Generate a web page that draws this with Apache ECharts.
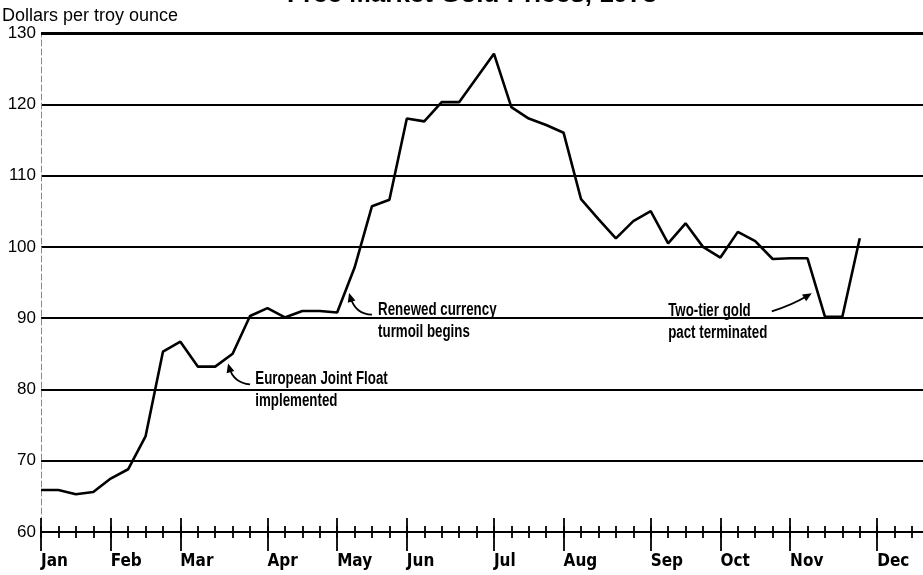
<!DOCTYPE html>
<html>
<head>
<meta charset="utf-8">
<style>
  html, body { margin: 0; padding: 0; background: #fff; }
  #chart { width: 923px; height: 575px; }
</style>
</head>
<body>
<div id="chart"></div>
<script src="https://cdn.jsdelivr.net/npm/echarts@6/dist/echarts.min.js"></script>
<script>
// weekly free market gold price, 1973 (week 0 = first week of Jan)
var prices = [
  65.9, 65.9, 65.3, 65.6, 67.5, 68.8, 73.4, 85.3, 86.7, 83.2,
  83.2, 85.0, 90.3, 91.4, 90.1, 91.0, 91.0, 90.8, 97.1, 105.7,
  106.6, 118.0, 117.6, 120.3, 120.3, 123.7, 127.1, 119.6, 118.0, 117.1,
  116.0, 106.7, 103.9, 101.2, 103.6, 105.0, 100.5, 103.3, 100.0, 98.5,
  102.1, 100.8, 98.3, 98.4, 98.4, 90.2, 90.2, 101.2
];
var months = ['Jan', 'Feb', 'Mar', 'Apr', 'May', 'Jun', 'Jul', 'Aug', 'Sep', 'Oct', 'Nov', 'Dec'];
var monthWeeks = [0, 4, 8, 13, 17, 21, 26, 30, 35, 39, 43, 48];
var weekTicks = [];
for (var w = 0; w <= 50; w++) weekTicks.push(w);

// annotations in data coords [week, price]
var notes = [
  { text: 'European Joint Float\nimplemented', at: [12.3, 81.4], tail: [12.0, 80.7], ctrl: [11.05, 80.9], head: [10.8, 83.1] },
  { text: 'Renewed currency\nturmoil begins', at: [19.35, 91.1], tail: [19.0, 90.5], ctrl: [18.05, 90.5], head: [17.75, 93.0] },
  { text: 'Two-tier gold\npact terminated', at: [36.0, 90.95], tail: [41.95, 90.95], ctrl: [43.1, 91.8], head: [44.05, 93.2] }
];

var condensed = "'DejaVu Sans Condensed', 'Liberation Sans Narrow', sans-serif";
var XMAX = 50.63;

function weekAxis(show, len, inside, vals, labels) {
  return {
    type: 'value', position: 'bottom', min: 0, max: XMAX, gridIndex: 0,
    axisLine: { show: show, lineStyle: { color: '#000', width: 1.5 } },
    axisTick: { show: true, inside: inside, length: len, customValues: vals,
                lineStyle: { color: '#000', width: 1.8 } },
    axisLabel: labels ? {
      customValues: monthWeeks, align: 'left', margin: 21,
      fontFamily: condensed, fontWeight: 'bold', fontSize: 17, color: '#000',
      formatter: function (v) { return months[monthWeeks.indexOf(v)]; }
    } : { show: false },
    splitLine: { show: false }
  };
}

var chart = echarts.init(document.getElementById('chart'));
var option = {
  animation: false,
  title: {
    text: 'Free Market Gold Prices, 1973', left: 467, textAlign: 'center', top: -23,
    textStyle: { fontFamily: 'Liberation Sans', fontWeight: 'bold', fontSize: 26, color: '#000' }
  },
  grid: { left: 41, right: 0, top: 33, bottom: 43, containLabel: false, outerBoundsMode: 'none' },
  xAxis: [
    weekAxis(true, 6, false, weekTicks, true),
    weekAxis(false, 6, true, weekTicks, false),
    weekAxis(false, 19, false, monthWeeks, false),
    weekAxis(false, 14, true, monthWeeks, false)
  ],
  yAxis: {
    type: 'value', min: 60, max: 130, interval: 10,
    name: 'Dollars per troy ounce', nameLocation: 'end', nameGap: 8,
    nameTextStyle: { align: 'left', padding: [0, 0, 0, -39], fontFamily: 'Liberation Sans', fontSize: 18, color: '#000' },
    axisLine: { show: true, lineStyle: { color: '#888', width: 1, type: [6, 3] } },
    axisTick: { show: false },
    axisLabel: { fontFamily: 'Liberation Sans', fontSize: 17, color: '#000', margin: 5 },
    splitLine: { show: true, lineStyle: { color: '#000', width: 1.8 } }
  },
  series: [{
    type: 'line',
    data: prices.map(function (v, i) { return [i, v]; }),
    symbol: 'none',
    lineStyle: { color: '#000', width: 2.6 },
    markLine: {
      silent: true, symbol: 'none', label: { show: false },
      lineStyle: { color: '#000', width: 3, type: 'solid' },
      data: [{ yAxis: 130 }]
    }
  }]
};
chart.setOption(option);

function px(p) { return chart.convertToPixel({ gridIndex: 0 }, p); }

var graphics = [];
notes.forEach(function (n) {
  var a = px(n.at);
  // bold condensed lettering: a regular bold face squeezed horizontally
  graphics.push({
    type: 'text', z: 10, x: a[0], y: a[1] - 11, scaleX: 0.74,
    style: { x: 0, y: 0, text: n.text, font: 'bold 18px Liberation Sans',
             lineHeight: 22, fill: '#000', textVerticalAlign: 'top' }
  });
  var t = px(n.tail), c = px(n.ctrl), h = px(n.head);
  graphics.push({
    type: 'bezierCurve', z: 10,
    shape: { x1: t[0], y1: t[1], cpx1: c[0], cpy1: c[1], x2: h[0], y2: h[1] },
    style: { stroke: '#000', lineWidth: 1.8, fill: null }
  });
  var dx = h[0] - c[0], dy = h[1] - c[1], L = Math.sqrt(dx * dx + dy * dy);
  var ux = dx / L, uy = dy / L;
  var tip = [h[0] + ux * 4, h[1] + uy * 4];
  var base = [h[0] - ux * 5, h[1] - uy * 5];
  graphics.push({
    type: 'polygon', z: 10,
    shape: { points: [tip, [base[0] - uy * 4, base[1] + ux * 4], [base[0] + uy * 4, base[1] - ux * 4]] },
    style: { fill: '#000' }
  });
});
chart.setOption({ graphic: graphics });
</script>
</body>
</html>
